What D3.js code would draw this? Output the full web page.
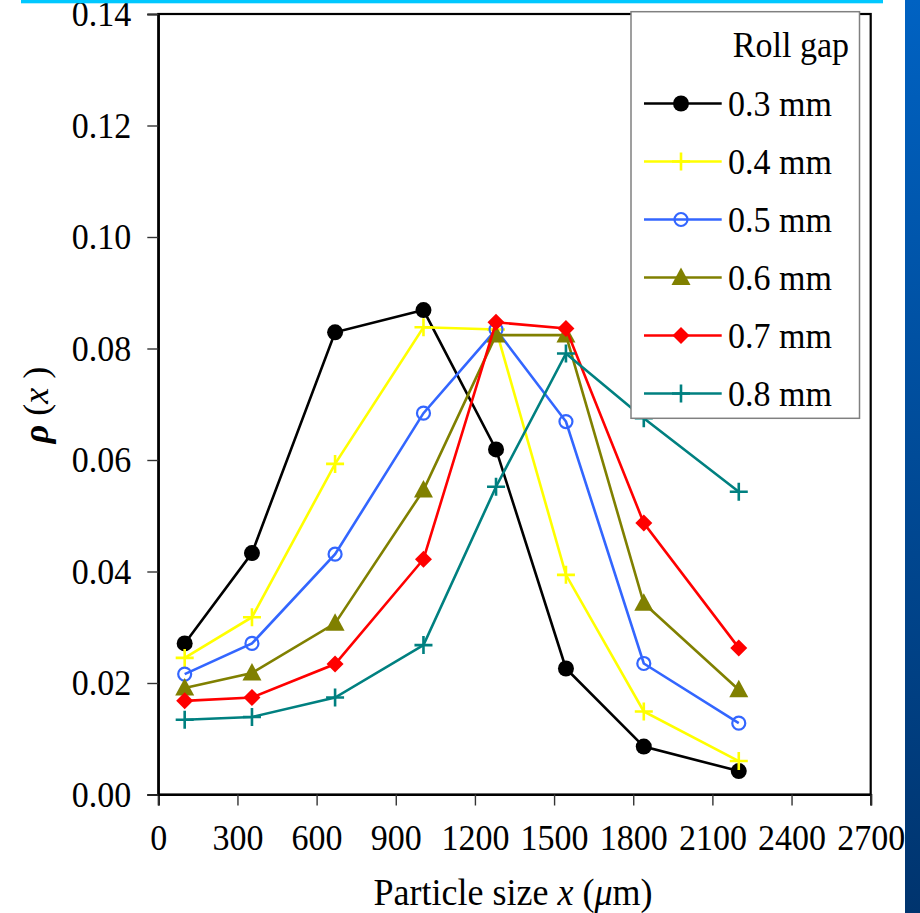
<!DOCTYPE html>
<html>
<head>
<meta charset="utf-8">
<script src="https://cdn.jsdelivr.net/npm/d3@7"></script>
<style>
  html, body { margin: 0; padding: 0; background: #fff; }
  svg { display: block; }
  text { font-family: "Liberation Serif", "Times New Roman", serif; fill: #000; }
  /* slightly tall serif lettering */
  text.tall { transform-box: fill-box; transform-origin: center; transform: scaleY(1.07); }
</style>
</head>
<body>
<svg id="chart" width="920" height="913"></svg>
<script>
// Particle size (µm) at which the distribution density was measured
const sizes = [100, 355, 670, 1005, 1280, 1545, 1840, 2200];

// Density ρ(x) for each roll gap
const gap03 = [0.0271, 0.0433, 0.0829, 0.0869, 0.0619, 0.0226, 0.0086, 0.0042];
const gap04 = [0.0245, 0.0318, 0.0593, 0.0838, 0.0834, 0.0394, 0.0149, 0.0060];
const gap05 = [0.0216, 0.0271, 0.0431, 0.0684, 0.0834, 0.0669, 0.0235, 0.0128];
const gap06 = [0.0191, 0.0218, 0.0307, 0.0546, 0.0824, 0.0824, 0.0343, 0.0188];
const gap07 = [0.0168, 0.0174, 0.0234, 0.0422, 0.0847, 0.0836, 0.0487, 0.0263];
const gap08 = [0.0134, 0.0139, 0.0174, 0.0268, 0.0552, 0.0791, 0.0675, 0.0543];

const seriesNames = ["0.3 mm", "0.4 mm", "0.5 mm", "0.6 mm", "0.7 mm", "0.8 mm"];
const xTicks = [0, 300, 600, 900, 1200, 1500, 1800, 2100, 2400, 2700];
const yTicks = [0, 0.02, 0.04, 0.06, 0.08, 0.10, 0.12, 0.14];
const legendTitle = "Roll gap";

const series = [
  { name: seriesNames[0], values: gap03, color: "#000000", marker: "dot" },
  { name: seriesNames[1], values: gap04, color: "#FFFF00", marker: "plus" },
  { name: seriesNames[2], values: gap05, color: "#3366FF", marker: "ring" },
  { name: seriesNames[3], values: gap06, color: "#808000", marker: "triangle" },
  { name: seriesNames[4], values: gap07, color: "#FF0000", marker: "diamond" },
  { name: seriesNames[5], values: gap08, color: "#008080", marker: "plus" }
];

const svg = d3.select("#chart");
const plot = { left: 158.3, right: 870.7, top: 14, bottom: 794.5 };
const FS = 34;

const x = d3.scaleLinear().domain([0, 2700]).range([plot.left, plot.right]);
const y = d3.scaleLinear().domain([0, 0.14]).range([plot.bottom, plot.top]);

// gradient for the slide's side strip
const defs = svg.append("defs");
const grad = defs.append("linearGradient").attr("id", "sideGrad")
  .attr("x1", 0).attr("y1", 0).attr("x2", 0).attr("y2", 1);
grad.append("stop").attr("offset", "0%").attr("stop-color", "#0062C2");
grad.append("stop").attr("offset", "100%").attr("stop-color", "#00346E");

// plot frame
svg.append("rect")
  .attr("x", plot.left).attr("y", plot.top)
  .attr("width", plot.right - plot.left).attr("height", plot.bottom - plot.top)
  .attr("fill", "none").attr("stroke", "#000").attr("stroke-width", 2.2);

// axes
const xAxis = d3.axisBottom(x).tickValues(xTicks).tickSize(11).tickPadding(20)
  .tickFormat(d3.format("d"));
const gx = svg.append("g").attr("transform", `translate(0,${plot.bottom})`).call(xAxis);
gx.select(".domain").attr("stroke-width", 2.2);
gx.selectAll(".tick line").attr("stroke", "#333").attr("stroke-width", 1.4);
gx.selectAll(".tick text").attr("class", "tall").attr("font-size", FS)
  .attr("font-family", "Liberation Serif").attr("dy", "0.71em");

const yAxis = d3.axisLeft(y).tickValues(yTicks).tickSize(11).tickPadding(16)
  .tickFormat(d3.format(".2f"));
const gy = svg.append("g").attr("transform", `translate(${plot.left},0)`).call(yAxis);
gy.select(".domain").attr("stroke-width", 2.2);
gy.selectAll(".tick line").attr("stroke", "#333").attr("stroke-width", 1.4);
gy.selectAll(".tick text").attr("class", "tall").attr("font-size", FS)
  .attr("font-family", "Liberation Serif");

// axis titles
const xt = svg.append("text").attr("class", "tall").attr("x", 513).attr("y", 904)
  .attr("text-anchor", "middle").attr("font-size", 36);
xt.append("tspan").text("Particle size ");
xt.append("tspan").attr("font-style", "italic").text("x");
xt.append("tspan").text(" (");
xt.append("tspan").attr("font-style", "italic").text("\u03BC");
xt.append("tspan").text("m)");

const yt = svg.append("text")
  .attr("transform", "translate(48,405) rotate(-90)")
  .attr("text-anchor", "middle").attr("font-size", 36);
yt.append("tspan").attr("font-weight", "bold").attr("font-style", "italic").text("\u03C1");
yt.append("tspan").text(" (");
yt.append("tspan").attr("font-style", "italic").text("x");
yt.append("tspan").text(" )");

// marker drawing
function drawMarker(g, type, color) {
  if (type === "dot") {
    g.append("circle").attr("r", 8).attr("fill", color);
  } else if (type === "ring") {
    g.append("circle").attr("r", 6.5).attr("fill", "none")
      .attr("stroke", color).attr("stroke-width", 2.2);
  } else if (type === "triangle") {
    g.append("path").attr("d", "M0,-10 L9.5,7.5 L-9.5,7.5 Z").attr("fill", color);
  } else if (type === "diamond") {
    g.append("path").attr("d", "M0,-8.5 L8.5,0 L0,8.5 L-8.5,0 Z").attr("fill", color);
  } else if (type === "plus") {
    g.append("path").attr("d", "M-9,0 H9 M0,-9 V9")
      .attr("stroke", color).attr("stroke-width", 2.6).attr("fill", "none");
  }
}

const line = d3.line().x(d => x(d[0])).y(d => y(d[1]));

series.forEach(s => {
  const pts = sizes.map((v, i) => [v, s.values[i]]);
  const g = svg.append("g");
  g.append("path").datum(pts).attr("d", line)
    .attr("fill", "none").attr("stroke", s.color).attr("stroke-width", 2.6);
  pts.forEach(p => {
    const m = g.append("g").attr("transform", `translate(${x(p[0])},${y(p[1])})`);
    drawMarker(m, s.marker, s.color);
  });
});

// legend
const lg = svg.append("g");
lg.append("rect").attr("x", 631).attr("y", 11.7).attr("width", 228.5).attr("height", 406.6)
  .attr("fill", "#fff").attr("stroke", "#808080").attr("stroke-width", 1.5);
lg.append("text").attr("class", "tall").attr("x", 849).attr("y", 56).attr("text-anchor", "end")
  .attr("font-size", FS).text(legendTitle);
series.forEach((s, i) => {
  const cy = 103.5 + i * 58;
  const row = lg.append("g").attr("transform", `translate(0,${cy})`);
  row.append("line").attr("x1", 644).attr("x2", 721.7).attr("y1", 0).attr("y2", 0)
    .attr("stroke", s.color).attr("stroke-width", 2.6);
  const m = row.append("g").attr("transform", "translate(681,0)");
  drawMarker(m, s.marker, s.color);
  row.append("text").attr("class", "tall").attr("x", 728).attr("y", 0).attr("dy", "0.35em")
    .attr("font-size", FS).text(s.name);
});

// slide trim: accent rule on top, gradient strip on the right
svg.append("rect").attr("x", 21).attr("y", 0).attr("width", 862).attr("height", 3.3).attr("fill", "#00C8FF");
svg.append("rect").attr("x", 905).attr("y", 0).attr("width", 15).attr("height", 913).attr("fill", "url(#sideGrad)");
</script>
</body>
</html>
